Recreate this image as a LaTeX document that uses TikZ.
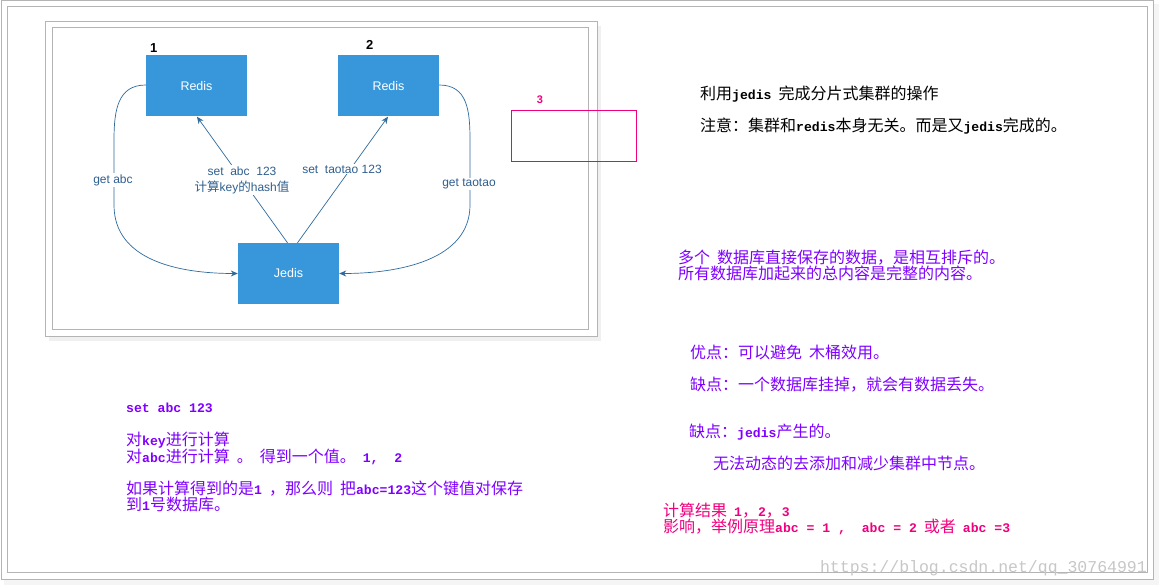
\documentclass[tikz,border=0pt]{standalone}
\usepackage{fontspec}
\setmainfont{Liberation Sans}
\newfontfamily\cjk{Noto Sans CJK SC}
\newfontfamily\mono[Scale=0.82]{Liberation Mono}
\newfontfamily\wmfont{Liberation Mono}
\usetikzlibrary{arrows.meta}
\definecolor{boxblue}{HTML}{3797DA}
\definecolor{lineblue}{HTML}{2E6B9C}
\definecolor{labblue}{HTML}{2F5F8F}
\definecolor{purp}{HTML}{8000FF}
\definecolor{pinkc}{HTML}{F0007F}
\definecolor{framegray}{HTML}{B4B4B4}
\newcommand{\mb}[1]{{\mono\bfseries #1}}
\newcommand{\gapsp}{\hspace{7pt}}
\tikzset{
  redisbox/.style={fill=boxblue, draw=none, minimum width=101pt, minimum height=61pt, inner sep=0pt, text=white, font=\fontsize{12.5}{14}\selectfont},
  conn/.style={draw=lineblue, line width=0.7pt, -{Stealth[length=7pt,width=6pt]}},
  edgelab/.style={fill=white, text=labblue, inner sep=1pt, font=\fontsize{12}{17}\selectfont, align=center},
  num/.style={font=\bfseries\fontsize{13}{15}\selectfont, inner sep=0pt},
  cn/.style={anchor=base west, inner sep=0pt, font=\cjk\fontsize{16}{16}\selectfont},
  frame/.style={draw=framegray, line width=1pt}
}
\begin{document}
\begin{tikzpicture}[x=1pt,y=-1pt]
\useasboundingbox (0,0) rectangle (1160,585);
% page frame with shadow
\fill[black!8] (5,5) rectangle (1158,584);
\fill[black!4] (4,4) rectangle (1159,585);
\fill[white] (1,1) rectangle (1153,579);
\draw[frame] (1,1) rectangle (1153,579);
\draw[frame] (7,7) rectangle (1147,572);
% diagram frame
\fill[black!6] (49,26) rectangle (601,341);
\fill[white] (45,22) rectangle (597,337);
\draw[frame] (45,22) rectangle (597,337);
\draw[frame] (52,28) rectangle (588,330);

% nodes
\node[redisbox] (r1) at (196.5,86) {Redis};
\node[redisbox] (r2) at (388.5,86) {Redis};
\node[redisbox] (jd) at (288.5,273.5) {Jedis};
\node[num, anchor=south west] (n1) at (150,53) {1};
\node[num, anchor=south west] (n2) at (366,50) {2};
\node[num, text=pinkc, font=\bfseries\fontsize{11}{13}\selectfont] (n3) at (540,100) {3};
\node[draw=pinkc, line width=0.8pt, minimum width=125pt, minimum height=51pt, inner sep=0pt] (pbox) at (573.5,135.5) {};

% connectors
\draw[conn] ([xshift=-1pt]jd.north) -- ([xshift=0.5pt]r1.south);
\draw[conn] ([xshift=9pt]jd.north) -- ([xshift=-0.5pt]r2.south);
\draw[conn] ([yshift=1pt]r1.west) .. controls +(-28,0) and +(0,-30) .. (114,140) -- (114,205) .. controls +(0,55) and +(-60,0) .. (jd.west);
\draw[conn] ([yshift=1pt]r2.east) .. controls +(28,0) and +(0,-30) .. (470,140) -- (470,205) .. controls +(0,55) and +(60,0) .. (jd.east);

% edge labels
\node[edgelab] (l1) at (242,180) {set\ \ abc\ \ 123\\[-1pt]{\cjk\fontsize{12.5}{14}\selectfont 计算}key{\cjk\fontsize{12.5}{14}\selectfont 的}hash{\cjk\fontsize{12.5}{14}\selectfont 值}};
\node[edgelab] (l2) at (342,169) {set\ \ taotao 123};
\node[edgelab] (l3) at (113,180) {get abc};
\node[edgelab] (l4) at (469,184) {get taotao};

% right texts
\node[cn] (t1) at (700,100) {利用\mb{jedis}\gapsp 完成分片式集群的操作};
\node[cn] (t2) at (700,132) {注意：集群和\mb{redis}本身无关。而是又\mb{jedis}完成的。};
\node[cn, text=purp] (t3) at (678,264) {多个\gapsp 数据库直接保存的数据，是相互排斥的。};
\node[cn, text=purp] (t4) at (678,280) {所有数据库加起来的总内容是完整的内容。};
\node[cn, text=purp] (t5) at (690,359) {优点：可以避免\gapsp 木桶效用。};
\node[cn, text=purp] (t6) at (690,391) {缺点：一个数据库挂掉，就会有数据丢失。};
\node[cn, text=purp] (t7) at (689,437) {缺点：\mb{jedis}产生的。};
\node[cn, text=purp] (t8) at (713,469) {无法动态的去添加和减少集群中节点。};
\node[cn, text=pinkc] (t9) at (663,516) {计算结果\gapsp\mb{1}，\mb{2}，\mb{3}};
\node[cn, text=pinkc] (t10) at (663,532) {影响，举例原理\mb{abc = 1 ,\ \ abc = 2}\gapsp 或者\gapsp\mb{abc =3}};

% bottom-left texts
\node[cn, text=purp] (b1) at (126,413) {\mb{set abc 123}};
\node[cn, text=purp] (b2) at (126,446) {对\mb{key}进行计算};
\node[cn, text=purp] (b3) at (126,462) {对\mb{abc}进行计算\gapsp 。\gapsp 得到一个值。\gapsp\mb{1,\ \ 2}};
\node[cn, text=purp] (b4) at (126,494) {如果计算得到的是\mb{1}\gapsp ，那么则\gapsp 把\mb{abc=123}这个键值对保存};
\node[cn, text=purp] (b5) at (126,510) {到\mb{1}号数据库。};

% watermark
\node[anchor=base east, inner sep=0pt, text=black!22, font=\wmfont\fontsize{16.5}{18}\selectfont] (wm) at (1147,572) {https://blog.csdn.net/qq\_30764991};
\end{tikzpicture}
\end{document}
